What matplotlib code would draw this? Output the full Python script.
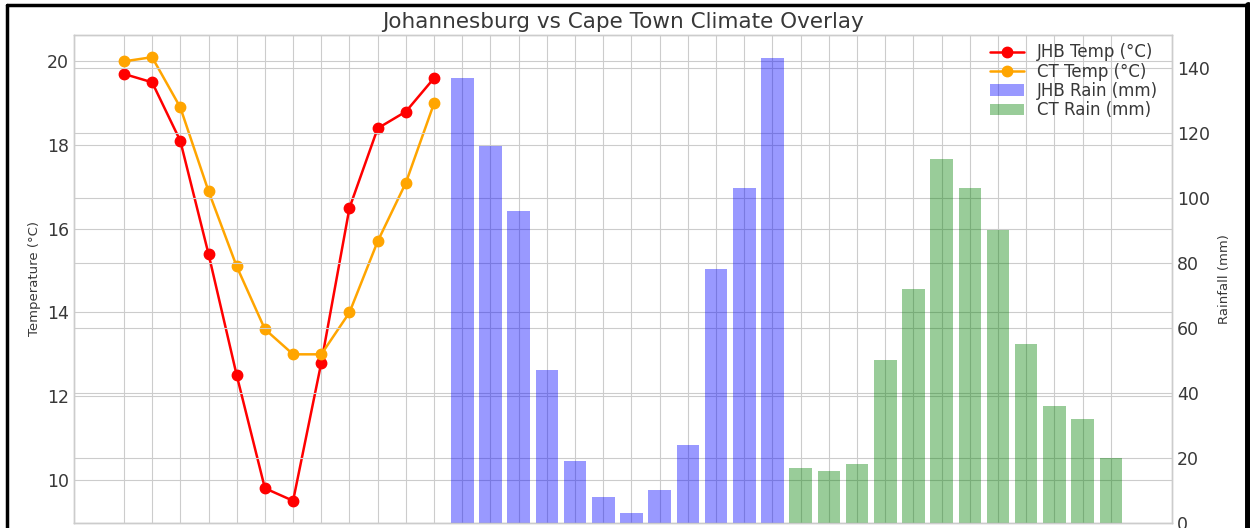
import numpy as np
import matplotlib
matplotlib.use("Agg")
import matplotlib.pyplot as plt
from matplotlib.lines import Line2D

# monthly values, Jan..Dec
jhb_temp = [19.7, 19.5, 18.1, 15.4, 12.5, 9.8, 9.5, 12.8, 16.5, 18.4, 18.8, 19.6]
ct_temp = [20.0, 20.1, 18.9, 16.9, 15.1, 13.6, 13.0, 13.0, 14.0, 15.7, 17.1, 19.0]
jhb_rain = [137, 116, 96, 47, 19, 8, 3, 10, 24, 78, 103, 143]
ct_rain = [17, 16, 18, 50, 72, 112, 103, 90, 55, 36, 32, 20]

plt.style.use("seaborn-v0_8-whitegrid")
plt.rcParams['font.family'] = ['DejaVu Sans']
txt = '0.22'

fig = plt.figure(figsize=(12.5, 5.28), dpi=100)
ax = fig.add_axes([0.0592, 0.0095, 0.8784, 0.9242])

n = len(jhb_temp)
x_temp = np.arange(n)
x_jhb = np.arange(n, 2 * n)
x_ct = np.arange(2 * n, 3 * n)

l1, = ax.plot(x_temp, jhb_temp, color='red', marker='o', lw=1.8, ms=7.5, label='JHB Temp (°C)')
l2, = ax.plot(x_temp, ct_temp, color='orange', marker='o', lw=1.8, ms=7.5, label='CT Temp (°C)')
ax.set_ylabel('Temperature (°C)', fontsize=9.5, labelpad=4, color=txt)
ax.tick_params(axis='y', labelsize=12.5, labelcolor=txt)

ax2 = ax.twinx()
b1 = ax2.bar(x_jhb, jhb_rain, width=0.8, color='blue', alpha=0.4, label='JHB Rain (mm)')
b2 = ax2.bar(x_ct, ct_rain, width=0.8, color='green', alpha=0.4, label='CT Rain (mm)')
ax2.set_ylabel('Rainfall (mm)', fontsize=9.5, labelpad=6, color=txt)
ax2.tick_params(axis='y', labelsize=12.5, labelcolor=txt)

ax.set_xticks(np.arange(3 * n))
ax.set_xticklabels([''] * (3 * n))
ax2.grid(True)

ax.set_title('Johannesburg vs Cape Town Climate Overlay', fontsize=15.5, color=txt, pad=5)

ax2.legend([l1, l2, b1, b2], [l1.get_label(), l2.get_label(), b1.get_label(), b2.get_label()],
           loc='upper right', bbox_to_anchor=(0.995, 1.0), fontsize=12, frameon=False,
           handlelength=2.0, labelspacing=0.08, borderaxespad=0.1, labelcolor=txt)

# screenshot border
fig.add_artist(Line2D([0.0056, 0.0056], [0, 0.99], transform=fig.transFigure, color='black', lw=2.5))
fig.add_artist(Line2D([0.0056, 1.0], [0.99, 0.99], transform=fig.transFigure, color='black', lw=2.5))
fig.add_artist(Line2D([0.998, 0.998], [0, 0.99], transform=fig.transFigure, color='black', lw=5))

fig.savefig('out.png', dpi=100)
